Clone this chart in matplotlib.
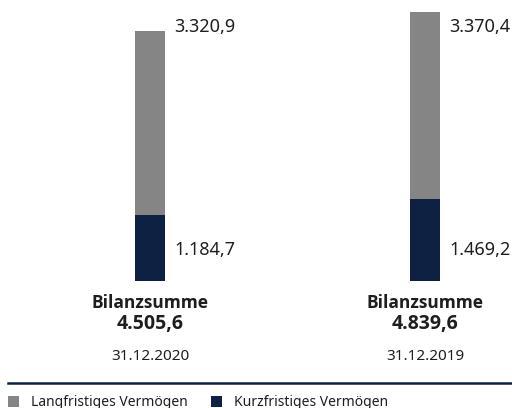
import matplotlib
matplotlib.use("Agg")
import matplotlib.pyplot as plt
from matplotlib.patches import Rectangle
from matplotlib.lines import Line2D
import matplotlib.transforms as mtransforms

# ---- data ----
dates = ["31.12.2020", "31.12.2019"]
kurzfristig = [1184.7, 1469.2]
langfristig = [3320.9, 3370.4]
bilanzsumme = [4505.6, 4839.6]
series_names = ["Langfristiges Vermögen", "Kurzfristiges Vermögen"]

GRAY = "#858585"
NAVY = "#0f2142"
TXT = "#1e1e1e"

plt.rcParams['font.family'] = ['Noto Sans', 'DejaVu Sans']
BOLD_FAMILY = ['Open Sans', 'DejaVu Sans']

W, H = 512, 408
fig = plt.figure(figsize=(W / 100, H / 100), dpi=100)

def fx(px):
    return px / W

def fy(py):
    return 1 - py / H

ax_bottom_px = 281
ax = fig.add_axes([0, fy(ax_bottom_px), 1, ax_bottom_px / H])
ax.set_axis_off()

xpos = [0, 1]
ax.set_xlim(-150 / 275, (512 - 150) / 275)
ax.set_ylim(0, ax_bottom_px / (250 / 4505.6))
bw = 30 / 275

ax.bar(xpos, kurzfristig, width=bw, color=NAVY, linewidth=0)
ax.bar(xpos, langfristig, width=bw, bottom=kurzfristig, color=GRAY, linewidth=0)

def fmt(v):
    s = f"{v:,.1f}"
    return s.replace(",", "X").replace(".", ",").replace("X", ".")

trans = mtransforms.blended_transform_factory(ax.transData, ax.transAxes)
for x, k, l in zip(xpos, kurzfristig, langfristig):
    ax.text(x + bw / 2 + 9 / 275, (ax_bottom_px - 27) / ax_bottom_px, fmt(l),
            transform=trans, ha='left', va='center', fontsize=13, color=TXT)
    ax.text(x + bw / 2 + 9 / 275, (ax_bottom_px - 250) / ax_bottom_px, fmt(k),
            transform=trans, ha='left', va='center', fontsize=13, color=TXT)

# bottom labels
tb = mtransforms.blended_transform_factory(ax.transData, fig.transFigure)
for x, tot, d in zip(xpos, bilanzsumme, dates):
    ax.text(x, fy(308), "Bilanzsumme", transform=tb, ha='center', va='baseline',
            fontsize=12.5, fontweight='bold', family=BOLD_FAMILY, color=TXT, clip_on=False)
    ax.text(x, fy(329), fmt(tot), transform=tb, ha='center', va='baseline',
            fontsize=14, fontweight='bold', family=BOLD_FAMILY, color=TXT, clip_on=False)
    ax.text(x, fy(360), d, transform=tb, ha='center', va='baseline',
            fontsize=11, color=TXT, clip_on=False)

# separator line
fig.add_artist(Line2D([fx(7.5), 1], [fy(383), fy(383)], color=NAVY, linewidth=1.8))

# legend
leg_items = [(8, GRAY, series_names[0]), (211, NAVY, series_names[1])]
for px, col, name in leg_items:
    fig.add_artist(Rectangle((fx(px), fy(407)), 11 / W, 11 / H,
                             transform=fig.transFigure, color=col, linewidth=0))
    fig.text(fx(px + 23), fy(405.5), name, ha='left', va='baseline',
             fontsize=10, color=TXT)

fig.savefig("out.png", dpi=100)
